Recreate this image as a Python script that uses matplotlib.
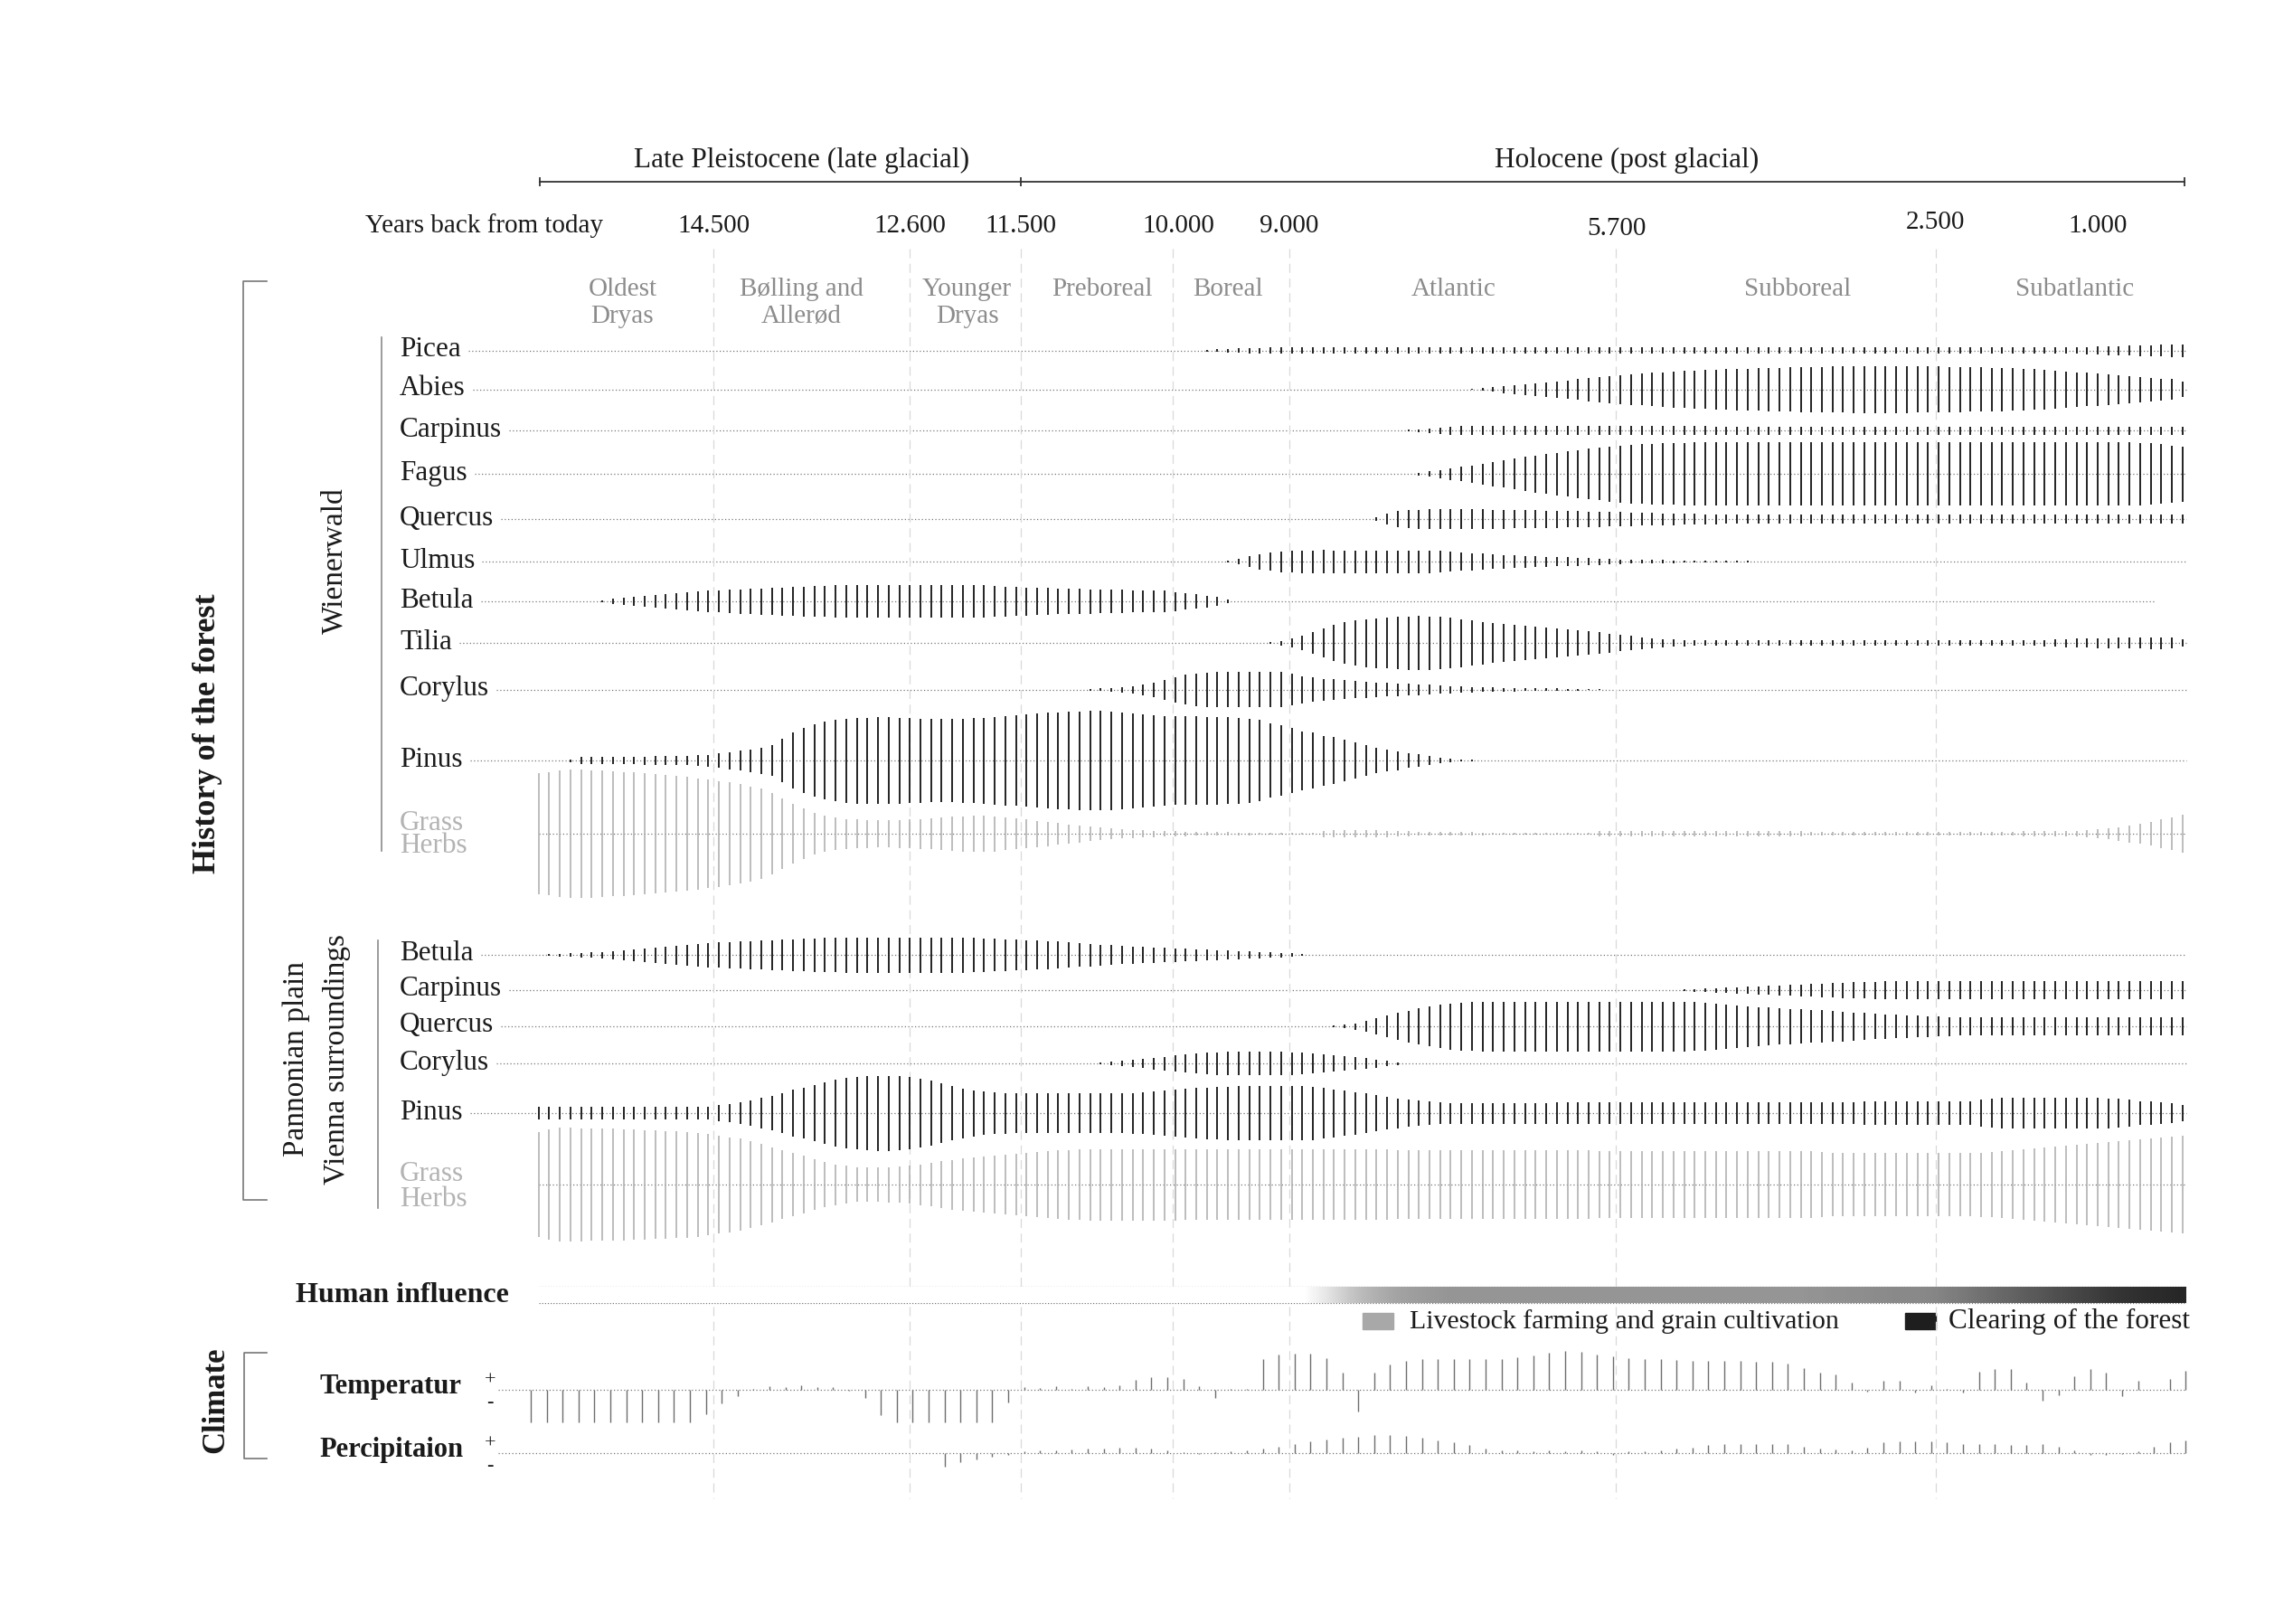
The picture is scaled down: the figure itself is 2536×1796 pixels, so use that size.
import numpy as np
import matplotlib
matplotlib.use("Agg")
import matplotlib.pyplot as plt
from matplotlib.colors import LinearSegmentedColormap
from matplotlib.patches import Rectangle

plt.rcParams['font.family'] = ['Liberation Serif', 'DejaVu Serif']

# ------------------------------------------------------------------ data
EPOCHS = ["Late Pleistocene (late glacial)", "Holocene (post glacial)"]
YEAR_TITLE = "Years back from today"
YEAR_LABELS = ["14.500", "12.600", "11.500", "10.000", "9.000", "5.700", "2.500", "1.000"]
PERIODS = [["Oldest", "Dryas"], ["Bølling and", "Allerød"], ["Younger", "Dryas"],
           ["Preboreal"], ["Boreal"], ["Atlantic"], ["Subboreal"], ["Subatlantic"]]

# relative pollen abundance per time step (half bar height), Wienerwald
PICEA_W = [
    0, 0, 0, 0, 0, 0, 0, 0, 0, 0, 0, 0, 0, 0, 0, 0, 0, 0, 0, 0,
    0, 0, 0, 0, 0, 0, 0, 0, 0, 0, 0, 0, 0, 0, 0, 0, 0, 0, 0, 0,
    0, 0, 0, 0, 0, 0, 0, 0, 0, 0, 0, 0, 0, 0, 0, 0, 0, 0, 0, 0,
    0, 0, 0, 1, 1.5, 2, 2.5, 3, 3, 3.5, 3.5, 3.5, 3.5, 3.5, 3.5, 3.5, 3.5, 3.5, 3.5, 3.5,
    3.5, 3.5, 3.5, 3.5, 3.5, 3.5, 3.5, 3.5, 3.5, 3.5, 3.5, 3.5, 3.5, 3.5, 3.5, 3.5, 3.5, 3.5, 3.5, 3.5,
    3.5, 3.5, 3.5, 3.5, 3.5, 3.5, 3.5, 3.5, 3.5, 3.5, 3.5, 3.5, 3.5, 3.5, 3.5, 3.5, 3.5, 3.5, 3.5, 3.5,
    3.5, 3.5, 3.5, 3.5, 3.5, 3.5, 3.5, 3.5, 3.5, 3.5, 3.5, 3.5, 3.5, 3.5, 3.5, 3.5, 3.5, 3.5, 3.5, 3.5,
    3.5, 3.5, 3.5, 3.5, 3.5, 3.5, 4, 4.5, 5, 5, 5.5, 6, 6, 6.5, 7, 7]
ABIES_W = [
    0, 0, 0, 0, 0, 0, 0, 0, 0, 0, 0, 0, 0, 0, 0, 0, 0, 0, 0, 0,
    0, 0, 0, 0, 0, 0, 0, 0, 0, 0, 0, 0, 0, 0, 0, 0, 0, 0, 0, 0,
    0, 0, 0, 0, 0, 0, 0, 0, 0, 0, 0, 0, 0, 0, 0, 0, 0, 0, 0, 0,
    0, 0, 0, 0, 0, 0, 0, 0, 0, 0, 0, 0, 0, 0, 0, 0, 0, 0, 0, 0,
    0, 0, 0, 0, 0, 0, 0, 0, 0.7, 1.5, 2.5, 4, 5, 6, 7, 8, 9, 10, 11.5, 13,
    14, 15, 16, 17, 17.5, 18.5, 19, 20, 20.5, 21, 21.5, 22, 22.5, 23, 23, 23.5, 24, 24, 24.5, 25,
    25, 25, 25.5, 25.5, 26, 26, 26, 26, 26, 26, 25.5, 25.5, 25.5, 25, 25, 24.5, 24.5, 24, 24, 23.5,
    23, 22.5, 22, 21, 20, 19, 18.5, 18, 17, 16, 15, 14, 13, 12, 11.5, 8.5]
CARPINUS_W = [
    0, 0, 0, 0, 0, 0, 0, 0, 0, 0, 0, 0, 0, 0, 0, 0, 0, 0, 0, 0,
    0, 0, 0, 0, 0, 0, 0, 0, 0, 0, 0, 0, 0, 0, 0, 0, 0, 0, 0, 0,
    0, 0, 0, 0, 0, 0, 0, 0, 0, 0, 0, 0, 0, 0, 0, 0, 0, 0, 0, 0,
    0, 0, 0, 0, 0, 0, 0, 0, 0, 0, 0, 0, 0, 0, 0, 0, 0, 0, 0, 0,
    0, 0, 0.8, 1.5, 2.5, 3.5, 4.5, 5, 5, 5, 5, 5, 5, 5, 5, 5, 5, 5, 5, 5,
    5, 5, 5, 5, 5, 5, 5, 5, 5, 5, 5, 4.5, 4.5, 4.5, 4.5, 4.5, 4.5, 4.5, 4.5, 4.5,
    4.5, 4.5, 4.5, 4.5, 4.5, 4.5, 4.5, 4.5, 4.5, 4.5, 4.5, 4.5, 4.5, 4.5, 4.5, 4.5, 4.5, 4.5, 4.5, 4.5,
    4.5, 4.5, 4.5, 4.5, 4.5, 4.5, 4.5, 4.5, 4.5, 4.5, 4.5, 4.5, 4.5, 4.5, 4.5, 4.5]
FAGUS_W = [
    0, 0, 0, 0, 0, 0, 0, 0, 0, 0, 0, 0, 0, 0, 0, 0, 0, 0, 0, 0,
    0, 0, 0, 0, 0, 0, 0, 0, 0, 0, 0, 0, 0, 0, 0, 0, 0, 0, 0, 0,
    0, 0, 0, 0, 0, 0, 0, 0, 0, 0, 0, 0, 0, 0, 0, 0, 0, 0, 0, 0,
    0, 0, 0, 0, 0, 0, 0, 0, 0, 0, 0, 0, 0, 0, 0, 0, 0, 0, 0, 0,
    0, 0, 0, 1.5, 3, 4.5, 6.5, 8, 9.5, 11.5, 13.5, 15, 17, 19, 20.5, 22, 23.5, 25, 26.5, 28,
    29, 30.5, 31.5, 32.5, 33, 33.5, 34, 34, 34.5, 35, 35, 35, 35, 35, 35, 35, 35, 35, 35, 35,
    35, 35, 35, 35, 35, 35, 35, 35, 35, 35, 35, 35, 35, 35, 35, 35, 35, 35, 35, 35,
    35, 35, 35, 35, 35, 35, 35, 35, 35, 35, 35, 34.5, 34, 33, 31.5, 30.5]
QUERCUS_W = [
    0, 0, 0, 0, 0, 0, 0, 0, 0, 0, 0, 0, 0, 0, 0, 0, 0, 0, 0, 0,
    0, 0, 0, 0, 0, 0, 0, 0, 0, 0, 0, 0, 0, 0, 0, 0, 0, 0, 0, 0,
    0, 0, 0, 0, 0, 0, 0, 0, 0, 0, 0, 0, 0, 0, 0, 0, 0, 0, 0, 0,
    0, 0, 0, 0, 0, 0, 0, 0, 0, 0, 0, 0, 0, 0, 0, 0, 0, 0, 0, 2,
    6, 9, 10, 10.5, 11, 11, 11, 11, 11, 11, 10.5, 10.5, 10, 10, 10, 9.5, 9.5, 9, 9, 8.5,
    8.5, 8, 8, 7.5, 7, 7, 6.5, 6.5, 6, 6, 5.5, 5.5, 5, 5, 5, 5, 5, 5, 5, 5,
    5, 5, 5, 5, 5, 5, 5, 5, 5, 5, 5, 5, 5, 5, 5, 5, 5, 5, 5, 5,
    5, 5, 5, 5, 5, 5, 5, 5, 5, 5, 5, 5, 5, 5, 5, 5]
ULMUS_W = [
    0, 0, 0, 0, 0, 0, 0, 0, 0, 0, 0, 0, 0, 0, 0, 0, 0, 0, 0, 0,
    0, 0, 0, 0, 0, 0, 0, 0, 0, 0, 0, 0, 0, 0, 0, 0, 0, 0, 0, 0,
    0, 0, 0, 0, 0, 0, 0, 0, 0, 0, 0, 0, 0, 0, 0, 0, 0, 0, 0, 0,
    0, 0, 0, 0, 0, 1, 3, 6, 8.5, 10, 11.5, 12, 12.5, 12.5, 12.7, 12.5, 12.5, 12.5, 12.5, 12.5,
    12.5, 12.5, 12.5, 12.5, 12.5, 12, 11, 10, 9.5, 9, 8, 7.5, 7, 6.5, 6, 5.5, 5.3, 5, 4.5, 4,
    3.5, 3, 2.5, 2.3, 2, 2, 1.8, 1.5, 1.3, 1.2, 1.1, 1, 1, 0.8, 0.6, 0, 0, 0, 0, 0,
    0, 0, 0, 0, 0, 0, 0, 0, 0, 0, 0, 0, 0, 0, 0, 0, 0, 0, 0, 0,
    0, 0, 0, 0, 0, 0, 0, 0, 0, 0, 0, 0, 0, 0, 0, 0]
BETULA_W = [
    0, 0, 0, 0, 0, 0, 1, 2.7, 4, 5, 6, 7.3, 8.3, 9.3, 10.3, 11, 11.7, 12.3, 13, 13.5,
    14, 14.5, 15, 15.5, 16, 16.5, 17, 17.3, 17.7, 17.7, 17.7, 17.7, 17.7, 17.7, 17.7, 17.7, 17.7, 17.7, 17.7, 17.7,
    17.7, 17.7, 17.7, 17, 16.5, 16, 15.5, 15, 14.7, 14.3, 14, 13.7, 13.5, 13.3, 13, 12.7, 12.3, 12, 12, 11.7,
    10.5, 9.3, 8.3, 6.5, 5, 1.7, 0, 0, 0, 0, 0, 0, 0, 0, 0, 0, 0, 0, 0, 0,
    0, 0, 0, 0, 0, 0, 0, 0, 0, 0, 0, 0, 0, 0, 0, 0, 0, 0, 0, 0,
    0, 0, 0, 0, 0, 0, 0, 0, 0, 0, 0, 0, 0, 0, 0, 0, 0, 0, 0, 0,
    0, 0, 0, 0, 0, 0, 0, 0, 0, 0, 0, 0, 0, 0, 0, 0, 0, 0, 0, 0,
    0, 0, 0, 0, 0, 0, 0, 0, 0, 0, 0, 0, 0, 0, 0, 0]
TILIA_W = [
    0, 0, 0, 0, 0, 0, 0, 0, 0, 0, 0, 0, 0, 0, 0, 0, 0, 0, 0, 0,
    0, 0, 0, 0, 0, 0, 0, 0, 0, 0, 0, 0, 0, 0, 0, 0, 0, 0, 0, 0,
    0, 0, 0, 0, 0, 0, 0, 0, 0, 0, 0, 0, 0, 0, 0, 0, 0, 0, 0, 0,
    0, 0, 0, 0, 0, 0, 0, 0, 0, 1, 2.5, 5, 8, 12, 16, 20, 23, 25, 26.5, 27.5,
    28.3, 29, 29.5, 29.7, 29.5, 29, 28, 26.5, 25, 23.5, 22, 21, 20, 19, 18.3, 17.3, 16, 15, 14, 12.8,
    11.7, 10.5, 9, 8, 6.5, 5.5, 4.5, 4, 3.5, 3, 3, 3, 3, 3, 3, 3, 3, 3, 3, 3,
    3, 3, 3, 3, 3, 3, 3, 3, 3, 3, 3, 3, 3, 3, 3, 3, 3, 3, 3, 3,
    3, 3, 3.5, 4, 4.5, 5, 5, 5.5, 5.5, 6, 6, 6, 6.5, 6.5, 6, 4]
CORYLUS_W = [
    0, 0, 0, 0, 0, 0, 0, 0, 0, 0, 0, 0, 0, 0, 0, 0, 0, 0, 0, 0,
    0, 0, 0, 0, 0, 0, 0, 0, 0, 0, 0, 0, 0, 0, 0, 0, 0, 0, 0, 0,
    0, 0, 0, 0, 0, 0, 0, 0, 0, 0, 0, 0, 1, 1.5, 2, 3, 4, 6, 8, 11,
    14, 16.5, 18, 19, 19.5, 19.5, 19.5, 19.5, 19.5, 19.5, 19.5, 17.5, 15, 13.3, 12, 11.2, 10.5, 9.5, 9, 8,
    7.5, 7, 6.5, 6, 5.5, 4.5, 4, 3.5, 3, 2.7, 2.3, 2, 2, 1.7, 1.5, 1.3, 1.2, 1, 1, 0.8,
    0.6, 0, 0, 0, 0, 0, 0, 0, 0, 0, 0, 0, 0, 0, 0, 0, 0, 0, 0, 0,
    0, 0, 0, 0, 0, 0, 0, 0, 0, 0, 0, 0, 0, 0, 0, 0, 0, 0, 0, 0,
    0, 0, 0, 0, 0, 0, 0, 0, 0, 0, 0, 0, 0, 0, 0, 0]
PINUS_W = [
    0, 0, 0, 1.5, 4, 4.2, 4.3, 4.3, 4.3, 4.4, 4.5, 4.6, 4.8, 5, 5.3, 5.8, 6.5, 8, 9.5, 11,
    12.5, 14.5, 17, 24, 31, 36, 40, 43, 45, 46.5, 47.5, 47.5, 48, 48, 47.5, 47, 46.5, 46, 46, 46,
    46.5, 47, 47.5, 48.5, 49.5, 50, 51, 52, 53, 53.5, 54, 54.5, 55, 55, 54.5, 53.5, 52.5, 51.5, 50.5, 49.5,
    49, 49, 48.7, 48.5, 48.5, 48, 47.5, 46.5, 45, 41, 39, 36, 32.5, 30.7, 27.5, 25.7, 23.3, 19.7, 17.2, 14,
    12.3, 10.5, 8.3, 6.7, 5, 3.3, 2.3, 1.3, 0.7, 0, 0, 0, 0, 0, 0, 0, 0, 0, 0, 0,
    0, 0, 0, 0, 0, 0, 0, 0, 0, 0, 0, 0, 0, 0, 0, 0, 0, 0, 0, 0,
    0, 0, 0, 0, 0, 0, 0, 0, 0, 0, 0, 0, 0, 0, 0, 0, 0, 0, 0, 0,
    0, 0, 0, 0, 0, 0, 0, 0, 0, 0, 0, 0, 0, 0, 0, 0]
GRASS_W = [
    66.7, 68, 70, 71, 71, 70.5, 70, 69, 68.5, 67.7, 67, 66, 65, 64, 63, 61.5, 60, 58.5, 57, 55,
    52.5, 50, 45, 39, 33, 28, 23, 20, 18, 16.5, 16, 15.5, 15.3, 15.3, 15.5, 16, 16.5, 17.3, 18, 19,
    19.5, 20, 20, 19.5, 18, 17, 16, 14.5, 13.5, 12, 10.5, 9.5, 8, 7, 6, 5, 4.5, 4, 3.5, 3.3,
    3, 2.5, 2, 2, 1.7, 1.7, 1.5, 1.5, 1.3, 1.3, 1.3, 1.3, 1.3, 1.3, 3.5, 3.7, 3.7, 3.7, 3.7, 3.7,
    3.5, 3.3, 3, 2, 2, 2, 2, 2, 2, 1.5, 1.3, 1.3, 1.3, 1.3, 1.3, 1.3, 1.3, 1.3, 1.3, 1.3,
    3.3, 3.3, 3.3, 3.3, 3.3, 3.3, 3.3, 3.3, 3.3, 3.3, 3.3, 3.3, 3.3, 3.3, 3.3, 3.3, 3.3, 3.3, 3.3, 3.3,
    2, 2, 2, 2, 2, 2, 2, 2, 2, 2, 2, 1.7, 1.7, 1.7, 1.7, 1.7, 1.7, 1.7, 1.7, 1.7,
    3.3, 3.3, 3.3, 3.3, 3.3, 3.3, 4, 5, 6, 7.5, 9.5, 11, 13.3, 16, 18.3, 20.7]

# Pannonian plain / Vienna surroundings
BETULA_P = [
    0, 1, 1.5, 2, 2.5, 3, 3.5, 4.5, 5.5, 6.5, 7.5, 8.5, 9.5, 10.5, 11.5, 12.5, 13.5, 14, 14.5, 15,
    15.5, 16, 16.5, 17, 17.5, 18, 18.5, 19, 19.3, 19.5, 19.5, 19.5, 19.5, 19.5, 19.5, 19.5, 19.5, 19.5, 19.5, 19.5,
    19.5, 19, 18.5, 18, 17.5, 17, 16.5, 16, 15.5, 15, 14, 13, 12.5, 11.5, 11, 10, 9.5, 9, 8.5, 8,
    7.5, 7, 6.5, 6, 5.5, 5, 4.5, 4, 3.5, 3, 2.5, 2, 1, 0, 0, 0, 0, 0, 0, 0,
    0, 0, 0, 0, 0, 0, 0, 0, 0, 0, 0, 0, 0, 0, 0, 0, 0, 0, 0, 0,
    0, 0, 0, 0, 0, 0, 0, 0, 0, 0, 0, 0, 0, 0, 0, 0, 0, 0, 0, 0,
    0, 0, 0, 0, 0, 0, 0, 0, 0, 0, 0, 0, 0, 0, 0, 0, 0, 0, 0, 0,
    0, 0, 0, 0, 0, 0, 0, 0, 0, 0, 0, 0, 0, 0, 0, 0]
CARPINUS_P = [
    0, 0, 0, 0, 0, 0, 0, 0, 0, 0, 0, 0, 0, 0, 0, 0, 0, 0, 0, 0,
    0, 0, 0, 0, 0, 0, 0, 0, 0, 0, 0, 0, 0, 0, 0, 0, 0, 0, 0, 0,
    0, 0, 0, 0, 0, 0, 0, 0, 0, 0, 0, 0, 0, 0, 0, 0, 0, 0, 0, 0,
    0, 0, 0, 0, 0, 0, 0, 0, 0, 0, 0, 0, 0, 0, 0, 0, 0, 0, 0, 0,
    0, 0, 0, 0, 0, 0, 0, 0, 0, 0, 0, 0, 0, 0, 0, 0, 0, 0, 0, 0,
    0, 0, 0, 0, 0, 0, 0, 0, 1, 1.5, 2, 2.5, 3, 3.5, 4, 4.5, 5, 5.5, 6, 6.5,
    7, 7.5, 8, 8.5, 9, 9, 9.5, 9.7, 9.7, 9.7, 9.7, 9.7, 9.7, 9.7, 9.7, 9.7, 9.7, 9.7, 9.7, 9.7,
    9.7, 9.7, 9.7, 9.7, 9.7, 9.7, 9.7, 9.7, 9.7, 9.7, 9.7, 9.7, 9.7, 9.7, 9.7, 9.7]
QUERCUS_P = [
    0, 0, 0, 0, 0, 0, 0, 0, 0, 0, 0, 0, 0, 0, 0, 0, 0, 0, 0, 0,
    0, 0, 0, 0, 0, 0, 0, 0, 0, 0, 0, 0, 0, 0, 0, 0, 0, 0, 0, 0,
    0, 0, 0, 0, 0, 0, 0, 0, 0, 0, 0, 0, 0, 0, 0, 0, 0, 0, 0, 0,
    0, 0, 0, 0, 0, 0, 0, 0, 0, 0, 0, 0, 0, 0, 0, 1, 2, 3.5, 6, 9,
    12, 15, 17.5, 20, 22, 24, 25.5, 26.5, 27, 27.5, 27.5, 27.5, 27.5, 27.5, 27.5, 27.5, 27.5, 27.5, 27.5, 27.5,
    27.5, 27.5, 27.5, 27.5, 27.5, 27.5, 27.5, 27.5, 27.5, 27, 26.5, 25.5, 24.5, 23.5, 22.5, 21.5, 21, 20, 19.5, 19,
    18.3, 17.8, 17, 16.5, 15.5, 15, 14, 13.5, 13, 12.5, 12, 11.5, 11, 10.5, 10, 9.7, 9.7, 9.7, 9.7, 9.7,
    9.7, 9.7, 9.7, 9.7, 9.7, 9.7, 9.7, 9.7, 9.7, 9.7, 9.7, 9.7, 9.7, 9.7, 9.7, 9.7]
CORYLUS_P = [
    0, 0, 0, 0, 0, 0, 0, 0, 0, 0, 0, 0, 0, 0, 0, 0, 0, 0, 0, 0,
    0, 0, 0, 0, 0, 0, 0, 0, 0, 0, 0, 0, 0, 0, 0, 0, 0, 0, 0, 0,
    0, 0, 0, 0, 0, 0, 0, 0, 0, 0, 0, 0, 0, 1, 2, 3, 4, 5, 6.5, 7.5,
    9, 10, 11, 12, 12.5, 13, 13, 13, 13, 13, 13, 12.5, 12, 11, 10, 9, 8, 7, 6, 4.5,
    3, 1.5, 0, 0, 0, 0, 0, 0, 0, 0, 0, 0, 0, 0, 0, 0, 0, 0, 0, 0,
    0, 0, 0, 0, 0, 0, 0, 0, 0, 0, 0, 0, 0, 0, 0, 0, 0, 0, 0, 0,
    0, 0, 0, 0, 0, 0, 0, 0, 0, 0, 0, 0, 0, 0, 0, 0, 0, 0, 0, 0,
    0, 0, 0, 0, 0, 0, 0, 0, 0, 0, 0, 0, 0, 0, 0, 0]
PINUS_P = [
    7.3, 7.3, 7.3, 7.3, 7.3, 7.3, 7.3, 7.3, 7.3, 7.3, 7.3, 7.3, 7.3, 7.3, 7.3, 7.3, 7.3, 9, 10, 12.3,
    14, 16.7, 19.3, 22, 26.3, 28.3, 31.3, 34, 36.7, 38.7, 40, 41, 41.5, 41.5, 41, 40, 38, 36, 33, 30,
    27.5, 25.5, 24, 23, 22.5, 22, 22, 22, 22, 22, 22, 22, 22, 22, 22, 22, 22.5, 23, 24, 25,
    26, 27, 28, 28.5, 29, 29.5, 30, 30, 30, 30, 30, 30, 30, 29.5, 28, 26.5, 25, 23.5, 22, 20,
    18, 16.5, 15, 14, 13, 12, 11.5, 11.5, 11.5, 11.5, 11.5, 11.5, 11.5, 11.5, 11.5, 11.5, 12, 12, 12, 12,
    12, 12, 12, 12, 12, 12, 12, 12, 12, 12, 12, 12, 12, 12, 12, 12, 12, 12, 12, 12,
    12, 12, 12, 12, 12, 12.7, 12.7, 13, 13, 13, 13, 13, 13, 13, 13, 13, 15, 16, 16.7, 17.3,
    17.3, 17.3, 17.3, 17.3, 17.3, 17.3, 17.3, 16.7, 16.5, 16, 15, 13.3, 12.7, 12.3, 10.7, 9]
GRASS_P = [
    58, 61, 63, 63, 62.5, 62, 62, 61.7, 61.5, 61, 60.5, 60, 59.5, 59, 58.5, 57.5, 56, 54, 52.5, 50.7,
    48, 45, 41.5, 38.3, 35, 31.7, 28, 25, 22.5, 20.7, 19.3, 19, 19, 19.5, 20, 21, 22.5, 24, 26, 27.5,
    29, 30, 31, 32, 33, 34, 35, 36, 37, 38, 38.5, 39, 39.5, 39.5, 39.5, 39.5, 39.5, 39.5, 39.5, 39.5,
    39.5, 39, 39, 39, 39, 39, 39, 39, 39, 39, 39, 39, 39, 39, 39, 39, 39, 39, 39, 39,
    39, 38, 38, 38, 38, 38, 38, 38, 38, 38, 38, 38, 38, 38, 38, 38, 38, 38, 38, 38,
    37, 37, 37, 37, 37, 37, 37, 37, 37, 37, 37, 37, 37, 37, 37, 37, 37, 37, 37, 37,
    37, 36, 35, 35, 35, 35, 35, 35, 35, 35, 35, 35, 35, 35, 35, 35, 35.5, 36, 37, 38,
    39, 40, 41, 42, 43, 44, 45, 46, 47, 48, 49, 50, 51, 52, 53, 54]

# intensity of human influence (0 = none, 1 = clearing of the forest)
HUMAN_INFLUENCE = [
    0, 0, 0, 0, 0, 0, 0, 0, 0, 0, 0, 0, 0, 0, 0, 0, 0, 0, 0, 0,
    0, 0, 0, 0, 0, 0, 0, 0, 0, 0, 0, 0, 0, 0, 0, 0, 0, 0, 0, 0,
    0, 0, 0, 0, 0, 0, 0, 0, 0, 0, 0, 0, 0, 0, 0, 0, 0, 0, 0, 0,
    0, 0, 0, 0, 0, 0, 0, 0, 0, 0, 0, 0, 0, 0.05, 0.1, 0.16, 0.22, 0.27, 0.31, 0.34,
    0.37, 0.39, 0.41, 0.42, 0.43, 0.44, 0.45, 0.45, 0.45, 0.45, 0.45, 0.45, 0.45, 0.45, 0.45, 0.45, 0.45, 0.45, 0.45, 0.45,
    0.45, 0.45, 0.45, 0.45, 0.45, 0.45, 0.45, 0.45, 0.45, 0.45, 0.45, 0.45, 0.45, 0.45, 0.45, 0.45, 0.45, 0.45, 0.45, 0.45,
    0.46, 0.46, 0.47, 0.47, 0.48, 0.48, 0.49, 0.49, 0.5, 0.5, 0.5, 0.51, 0.52, 0.54, 0.56, 0.58, 0.6, 0.62, 0.64, 0.66,
    0.68, 0.7, 0.72, 0.74, 0.76, 0.78, 0.8, 0.82, 0.84, 0.86, 0.87, 0.88, 0.89, 0.9, 0.91, 0.92]

# climate anomalies (+ up / - down)
TEMPERATURE = [
    -36, -36, -36, -36, -36, -36, -36, -36, -36, -36, -36, -27, -15, -7, 1, 4, 3, 5, 3, 3,
    -1, -9, -28, -36, -36, -36, -36, -36, -36, -36, -14, 3, 2, 4, 1, 4, 3, 5, 11, 14,
    14, 12, 4, -9, 1, 1, 34, 39, 40, 40, 35, 19, -24, 19, 28, 32, 34, 34, 34, 34,
    34, 34, 36, 38, 41, 42.7, 42, 39, 37, 35, 34, 34, 33, 32, 32, 32, 32, 31, 31, 29,
    24, 19, 17, 8, -2, 10, 10, -3, 5, 1, -3, 20, 23, 23, 8, -12, -6, 15, 23, 19,
    -7, 10, 0, 12, 21]
PRECIPITATION = [
    0, 0, 0, 0, 0, 0, 0, 0, 0, 0, 0, 0, 0, 0, 0, 0, 0, 0, 0, 0,
    0, 0, 0, 0, 0, 0, -15, -10, -7, -4, -2, 2, 3, 3, 4, 5, 5, 6, 6, 5,
    3, 1, -1, 1, 2, 3, 5, 7, 10, 13, 15, 17, 18, 20, 20, 19, 17, 14, 12, 9,
    5, 3, 3, 2, 3, 2, 3, 2, -2, 2, 2, 3, 5, 6, 9, 10, 10, 10, 10, 10,
    7, 5, 4, 3, 6, 12, 13, 13, 13, 12, 10, 10, 10, 9, 9, 10, 7, 3, -2, -2,
    -1, 2, 7, 12, 14]

WIENERWALD_LABELS = ["Picea", "Abies", "Carpinus", "Fagus", "Quercus",
                     "Ulmus", "Betula", "Tilia", "Corylus", "Pinus"]
WIENERWALD_SERIES = [PICEA_W, ABIES_W, CARPINUS_W, FAGUS_W, QUERCUS_W,
                     ULMUS_W, BETULA_W, TILIA_W, CORYLUS_W, PINUS_W]
PANNONIAN_LABELS = ["Betula", "Carpinus", "Quercus", "Corylus", "Pinus"]
PANNONIAN_SERIES = [BETULA_P, CARPINUS_P, QUERCUS_P, CORYLUS_P, PINUS_P]

N = len(PICEA_W)
for s in WIENERWALD_SERIES + PANNONIAN_SERIES + [GRASS_W, GRASS_P, HUMAN_INFLUENCE]:
    assert len(s) == N, len(s)
NC = len(TEMPERATURE)
assert len(PRECIPITATION) == NC

# ------------------------------------------------------------------ layout
W, H = 2536, 1796
X0, DX = 595.7, 11.73          # pixel position of first time step, step width
XC0, DXC = 587.0, 17.6         # climate series positions
X_END = 2418
AMP = 1.0                      # px per abundance unit

# era boundaries on the time-step axis
BOUND_POS = [16.5, 35.0, 45.5, 59.8, 70.8, 101.6, 131.7]
YEAR_POS = [16.5, 35.0, 45.5, 60.3, 70.8, 101.6, 131.7, 147.0]
YEAR_BASE = [257, 257, 257, 257, 257, 260, 253, 257]
PERIOD_POS = [7.9, 24.8, 40.4, 53.1, 65.0, 86.3, 118.7, 144.8]
EPOCH_POS = [24.8, 102.6]
EPOCH_TICKS = [0.1, 45.5, 155.2]

W_BASE = [387.5, 430.5, 476, 524, 574, 621, 665, 711, 762.5, 841]
W_LINE_END = [X_END, X_END, X_END, X_END, X_END, X_END, 2382, X_END, X_END, X_END]
W_GRASS_BASE = 922
P_BASE = [1056, 1095, 1135, 1176, 1231]
P_GRASS_BASE = 1310
TEMP_BASE, PREC_BASE = 1537, 1607

BLACK = "#1a1a1a"
GREY_TXT = "#8c8c8c"
GRASS_COL = "#ababab"
DOT = "#767676"

fig = plt.figure(figsize=(W / 100, H / 100), dpi=100)
fig.patch.set_facecolor("white")


def overlay(xlim):
    a = fig.add_axes([0, 0, 1, 1])
    a.set_xlim(*xlim)
    a.set_ylim(H, 0)
    a.axis("off")
    a.patch.set_alpha(0)
    return a


lay = overlay((0, W))
veg = overlay((-X0 / DX, (W - X0) / DX))
clim = overlay((-XC0 / DXC, (W - XC0) / DXC))
renderer = fig.canvas.get_renderer()

idx = np.arange(N)
cidx = np.arange(NC)

# era boundary lines
veg.vlines(BOUND_POS, 275, 1657, colors="#d9d9d9", linewidths=0.9,
           linestyles=(0, (8, 5)), zorder=0)

# epoch bracket
veg.plot([EPOCH_TICKS[0], EPOCH_TICKS[-1]], [201, 201], color="#333333", lw=1.3, zorder=2)
veg.vlines(EPOCH_TICKS, 196, 206, colors="#333333", linewidths=1.3)
for lab, p in zip(EPOCHS, EPOCH_POS):
    veg.text(p, 185, lab, ha="center", va="baseline", fontsize=22.5, color=BLACK)

lay.text(404, 257, YEAR_TITLE, ha="left", va="baseline", fontsize=21, color=BLACK)
for lab, p, yb in zip(YEAR_LABELS, YEAR_POS, YEAR_BASE):
    veg.text(p, yb, lab, ha="center", va="baseline", fontsize=21, color=BLACK)
for lines, p in zip(PERIODS, PERIOD_POS):
    for k, ln in enumerate(lines):
        veg.text(p, 327 + 30 * k, ln, ha="center", va="baseline", fontsize=21, color=GREY_TXT)


def row(label, values, base, x_end=X_END, color=BLACK, lw=1.35, fs=22.5):
    t = lay.text(442, base + 6.5, label, ha="left", va="baseline", fontsize=fs, color=color)
    x1 = t.get_window_extent(renderer).x1 + 8
    lay.plot([x1, x_end], [base, base], color=DOT, lw=0.9, ls=(0, (1, 2)), zorder=1)
    v = np.asarray(values, float)
    m = v > 0
    veg.vlines(idx[m], base - v[m] * AMP, base + v[m] * AMP, colors=color,
               linewidths=lw, zorder=3)


for lab, s, b, e in zip(WIENERWALD_LABELS, WIENERWALD_SERIES, W_BASE, W_LINE_END):
    row(lab, s, b, e)
for lab, s, b in zip(PANNONIAN_LABELS, PANNONIAN_SERIES, P_BASE):
    row(lab, s, b)


def grass(values, base, y_grass, y_herbs):
    lay.text(442, y_grass, "Grass", ha="left", va="baseline", fontsize=22.5, color="#b3b3b3")
    lay.text(442, y_herbs, "Herbs", ha="left", va="baseline", fontsize=22.5, color="#b3b3b3")
    lay.plot([X0, X_END], [base, base], color=DOT, lw=0.9, ls=(0, (1, 2)), zorder=1)
    v = np.asarray(values, float)
    m = v > 0
    veg.vlines(idx[m], base - v[m] * AMP, base + v[m] * AMP, colors=GRASS_COL,
               linewidths=1.1, zorder=3)


grass(GRASS_W, W_GRASS_BASE, 918, 943)
grass(GRASS_P, P_GRASS_BASE, 1306, 1334)

# group labels and brackets
lay.plot([295, 269, 269, 295], [311, 311, 1327, 1327], color="#777777", lw=1.2)
lay.text(229, 811, "History of the forest", rotation=90, ha="center", va="center",
         fontsize=26, fontweight="bold", color=BLACK)
lay.plot([422, 422], [373, 941], color="#8a8a8a", lw=1.2)
lay.text(370, 620, "Wienerwald", rotation=90, ha="center", va="center", fontsize=24, color=BLACK)
lay.plot([418, 418], [1040, 1336], color="#8a8a8a", lw=1.2)
lay.text(328, 1171, "Pannonian plain", rotation=90, ha="center", va="center", fontsize=24, color=BLACK)
lay.text(373, 1171, "Vienna surroundings", rotation=90, ha="center", va="center", fontsize=24, color=BLACK)

# human influence
cmap = LinearSegmentedColormap.from_list("human", ["#ffffff", "#141414"])
veg.imshow(np.array([HUMAN_INFLUENCE]), cmap=cmap, vmin=0, vmax=1, aspect="auto",
           extent=(-0.05, N - 0.65, 1441, 1423), interpolation="bilinear", zorder=1)
veg.set_xlim(-X0 / DX, (W - X0) / DX)
veg.set_ylim(H, 0)
for yy in (1423, 1441):
    lay.plot([X0, X_END], [yy, yy], color=DOT, lw=0.9, ls=(0, (1, 1.5)), zorder=2)
lay.text(327, 1440, "Human influence", ha="left", va="baseline", fontsize=23,
         fontweight="bold", color=BLACK)
lay.add_patch(Rectangle((1507, 1452), 34, 18, color="#a8a8a8"))
lay.text(1559, 1469, "Livestock farming and grain cultivation", ha="left", va="baseline",
         fontsize=21.5, color=BLACK)
lay.add_patch(Rectangle((2107, 1452), 34, 18, color="#1e1e1e"))
lay.text(2155, 1469, "Clearing of the forest", ha="left", va="baseline", fontsize=22.5, color=BLACK)

# climate
lay.plot([295, 270, 270, 295], [1496, 1496, 1613, 1613], color="#777777", lw=1.2)
lay.text(239, 1548, "Climate", rotation=90, ha="center", va="center", fontsize=25,
         fontweight="bold", color=BLACK)
for lab, base, yb in (("Temperatur", TEMP_BASE, 1541), ("Percipitaion", PREC_BASE, 1611)):
    lay.text(353, yb, lab, ha="left", va="baseline", fontsize=22, fontweight="bold", color=BLACK)
    lay.text(542, base - 10, "+", ha="center", va="center", fontsize=16, color=BLACK)
    lay.text(542, base + 14, "-", ha="center", va="center", fontsize=16, color=BLACK)
    lay.plot([551, X_END], [base, base], color=DOT, lw=0.9, ls=(0, (1, 2)), zorder=1)
for vals, base in ((TEMPERATURE, TEMP_BASE), (PRECIPITATION, PREC_BASE)):
    v = np.asarray(vals, float)
    m = v != 0
    clim.vlines(cidx[m], np.full(m.sum(), base), base - v[m], colors="#6e6e6e",
                linewidths=1.0, zorder=3)

fig.savefig("out.png", dpi=100, facecolor="white")
